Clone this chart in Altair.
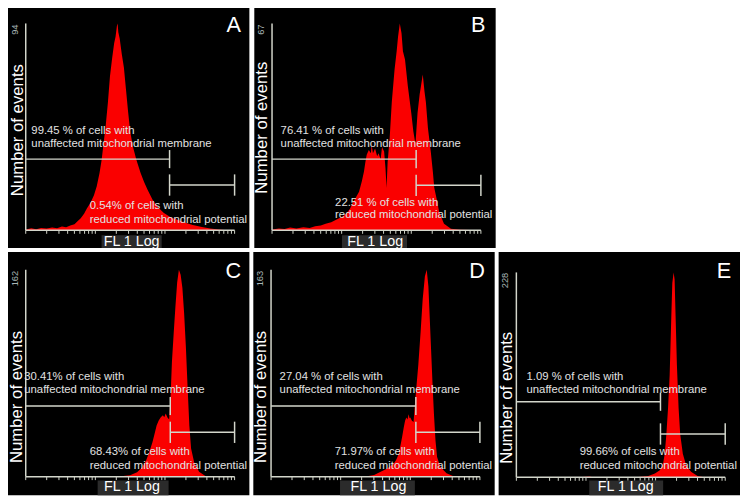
import math
import altair as alt
import pandas as pd

# ---------------- data ----------------
panel_ids = ["A", "B", "C", "D", "E"]
max_events = [94, 67, 162, 163, 228]
# boundary between the two gates and the end of the axis, in log10(FL1) units
gate_split = [2.066, 2.07, 2.076, 2.08, 2.07]
axis_decades = 3.0

upper_line1 = ["99.45 % of cells with", "76.41 % of cells with", "30.41% of cells with",
               "27.04 % of cells with", "1.09 % of cells with"]
upper_line2 = "unaffected mitochondrial membrane"
lower_line1 = ["0.54% of cells with", "22.51 % of cells with", "68.43% of cells with",
               "71.97% of cells with", "99.66% of cells with"]
lower_line2 = "reduced mitochondrial potential"
y_title = "Number of events"
x_title = "FL 1 Log"

# histograms: log10(FL1) position and number of events
hist_A_x = [0.00, 0.08, 0.15, 0.22, 0.30, 0.38, 0.45, 0.52, 0.58, 0.64, 0.70, 0.74, 0.79, 0.84, 0.88,
            0.93, 0.98, 1.02, 1.06, 1.09, 1.12, 1.15, 1.18, 1.21, 1.24, 1.27, 1.29, 1.31, 1.32, 1.33,
            1.35, 1.38, 1.41, 1.44, 1.47, 1.50, 1.54, 1.59, 1.65, 1.70, 1.75, 1.82, 1.90, 1.98, 2.08,
            2.18, 2.28, 2.40, 2.53, 2.65, 2.77, 2.90, 3.00]
hist_A_y = [0.4, 0.9, 0.5, 1.1, 0.8, 1.3, 1.0, 1.7, 1.4, 2.2, 2.8, 4.0, 5.5, 7.6, 10.0,
            12.5, 16.0, 20.0, 26.0, 32.0, 40.0, 48.0, 58.0, 70.0, 78.0, 85.0, 88.0, 93.0, 94.0, 90.0,
            87.0, 80.0, 74.0, 64.0, 54.0, 45.0, 38.0, 32.0, 26.0, 22.0, 18.5, 14.0, 10.5, 8.0, 6.0,
            4.8, 3.6, 2.4, 1.5, 0.8, 0.4, 0.1, 0.0]

hist_B_x = [0.00, 0.10, 0.18, 0.26, 0.35, 0.45, 0.54, 0.62, 0.70, 0.77, 0.85, 0.92, 1.00, 1.06, 1.12,
            1.15, 1.20, 1.25, 1.29, 1.32, 1.34, 1.36, 1.39, 1.42, 1.43, 1.45, 1.48, 1.51, 1.53, 1.56,
            1.58, 1.61, 1.63, 1.645, 1.66, 1.69, 1.72, 1.76, 1.79, 1.81, 1.835, 1.86, 1.88, 1.91, 1.95,
            2.00, 2.03, 2.06, 2.09, 2.12, 2.14, 2.165, 2.19, 2.21, 2.24, 2.28, 2.31, 2.33, 2.37, 2.40,
            2.47, 2.57, 2.70, 2.99]
hist_B_y = [0.3, 0.6, 0.4, 0.9, 0.6, 1.0, 0.8, 1.3, 1.6, 2.1, 2.6, 3.4, 4.3, 5.3, 7.0,
            8.5, 10.5, 12.5, 15.9, 19.0, 22.0, 24.5, 26.0, 25.0, 27.6, 25.0, 26.5, 24.0, 25.0, 23.0,
            27.0, 25.5, 20.0, 13.8, 22.0, 30.0, 41.5, 52.1, 58.0, 62.7, 67.0, 63.8, 58.0, 55.3, 46.8,
            38.0, 32.0, 28.0, 38.0, 44.0, 46.8, 50.5, 45.0, 41.5, 33.0, 25.5, 19.0, 13.8, 9.6, 6.0,
            2.1, 0.5, 0.2, 0.0]

hist_C_x = [0.00, 0.30, 0.60, 0.90, 1.20, 1.40, 1.50, 1.54, 1.60, 1.64, 1.68, 1.73, 1.78, 1.82, 1.85,
            1.88, 1.91, 1.94, 1.97, 1.99, 2.01, 2.04, 2.06, 2.08, 2.10, 2.125, 2.15, 2.175, 2.20,
            2.225, 2.25, 2.275, 2.30, 2.325, 2.35, 2.375, 2.42, 2.49, 2.58, 2.72, 3.00]
hist_C_y = [0.0, 0.2, 0.3, 0.2, 0.4, 0.5, 1.0, 2.0, 3.5, 5.5, 8.0, 12.9, 20.0, 27.0, 33.4,
            40.0, 44.0, 46.5, 48.0, 46.5, 49.5, 46.0, 45.0, 61.7, 90.0, 112.0, 133.0, 152.0, 162.0,
            158.0, 148.0, 128.0, 102.0, 70.0, 40.0, 22.0, 11.0, 3.9, 0.5, 0.1, 0.0]

hist_D_x = [0.00, 0.30, 0.60, 0.90, 1.20, 1.40, 1.48, 1.575, 1.67, 1.764, 1.80, 1.835, 1.86, 1.882,
            1.906, 1.925, 1.943, 1.96, 1.976, 1.99, 2.00, 2.024, 2.047, 2.066, 2.09, 2.115, 2.148,
            2.178, 2.21, 2.236, 2.26, 2.278, 2.298, 2.322, 2.34, 2.362, 2.385, 2.43, 2.52, 2.613,
            2.75, 3.00]
hist_D_y = [0.0, 0.2, 0.3, 0.2, 0.4, 0.6, 1.3, 3.9, 6.5, 10.3, 13.5, 18.1, 25.0, 31.0,
            38.8, 44.0, 46.6, 45.0, 49.2, 46.0, 46.6, 44.0, 43.0, 56.9, 72.0, 88.0, 113.8,
            139.7, 157.8, 163.0, 150.0, 126.8, 100.9, 69.8, 49.2, 28.5, 15.5, 7.8, 2.6, 0.5,
            0.1, 0.0]

hist_E_x = [0.00, 0.50, 0.90, 1.05, 1.10, 1.30, 1.60, 1.754, 1.896, 1.99, 2.061, 2.108, 2.131, 2.155,
            2.179, 2.202, 2.226, 2.24, 2.259, 2.273, 2.287, 2.306, 2.33, 2.353, 2.391, 2.438, 2.509,
            2.603, 2.697, 3.00]
hist_E_y = [0.0, 0.0, 0.0, 0.8, 0.0, 0.0, 0.2, 0.5, 1.5, 4.4, 8.0, 15.3, 26.3, 48.2,
            77.5, 114.0, 179.8, 216.3, 228.0, 220.0, 179.8, 125.0, 77.5, 48.2, 26.3, 13.5, 6.2,
            1.5, 0.2, 0.0]

hist_x = [hist_A_x, hist_B_x, hist_C_x, hist_D_x, hist_E_x]
hist_y = [hist_A_y, hist_B_y, hist_C_y, hist_D_y, hist_E_y]

# log-axis minor/major tick positions (log10 units)
tick_positions = [d + math.log10(k) for d in range(3) for k in range(1, 10)] + [3.0]

# ---------------- layout / style (pixels inside each panel) ----------------
PANEL_W = 245
PANEL_H = [245, 245, 247, 247, 247]
LAYOUT = [
    dict(base=227, top=17, m1=154.7, m2=181.0, ux=23.7, uy=(129.3, 142.0), lx=83.0, ly=(205.3, 219.3),
         tx=15.3, ty=125.3, mx=10, my=18, cx=229, cy=25.3, bx=(95, 156), fx=125.5),
    dict(base=227, top=17, m1=154.7, m2=181.3, ux=26.7, uy=(129.3, 142.0), lx=82.0, ly=(202.0, 214.3),
         tx=12.7, ty=122.8, mx=10, my=18, cx=227.3, cy=25.3, bx=(89, 155), fx=122.7),
    dict(base=228, top=18, m1=156.3, m2=183.0, ux=16.5, uy=(130.3, 143.0), lx=83.0, ly=(206.3, 220.3),
         tx=14.0, ty=147.2, mx=10, my=19, cx=228.7, cy=26.3, bx=(91, 163), fx=125.8),
    dict(base=228, top=18, m1=156.3, m2=183.0, ux=26.7, uy=(130.3, 143.0), lx=82.7, ly=(206.3, 220.3),
         tx=13.3, ty=147.0, mx=10, my=19, cx=227.0, cy=26.3, bx=(88, 164), fx=127.0),
    dict(base=228.7, top=20.7, m1=152.0, m2=184.7, ux=28.3, uy=(130.3, 143.0), lx=82.3, ly=(206.3, 220.3),
         tx=13.3, ty=148.0, mx=10, my=21, cx=228.7, cy=26.3, bx=(92, 167), fx=129.0),
]
RED = "#fa0000"
LINE = "#d3d6cb"
TEXT = "#e2e2e2"
FONT = "Liberation Sans"
one = pd.DataFrame({"k": [0]})


def txt(text, x, y, size, color, align="left", angle=0, baseline="alphabetic"):
    kw = dict(text=text, fontSize=size, color=color, align=align, baseline=baseline, font=FONT)
    if angle:
        kw["angle"] = angle
    return alt.Chart(one).mark_text(**kw).encode(x=alt.value(x), y=alt.value(y))


def panel(i):
    L = LAYOUT[i]
    xs = alt.Scale(domain=[0, axis_decades], range=[18, 230], nice=False, zero=False)
    ys = alt.Scale(domain=[0, max_events[i]], range=[L["base"], L["top"]], nice=False, zero=False)
    g = gate_split[i]

    hist = pd.DataFrame({"fl": hist_x[i], "n": hist_y[i]})
    area = alt.Chart(hist).mark_area(color=RED, interpolate="linear").encode(
        x=alt.X("fl:Q", scale=xs, axis=None),
        y=alt.Y("n:Q", scale=ys, axis=None),
        y2=alt.datum(0),
    )
    yaxis = alt.Chart(pd.DataFrame({"x": [0.0], "y1": [0.0], "y2": [float(max_events[i])]})).mark_rule(
        color=LINE, strokeWidth=1.5).encode(
        x=alt.X("x:Q", axis=None), y=alt.Y("y1:Q", axis=None), y2="y2:Q")
    xaxis = alt.Chart(pd.DataFrame({"x1": [0.0], "x2": [axis_decades], "y": [0.0]})).mark_rule(
        color=LINE, strokeWidth=1.5).encode(
        x=alt.X("x1:Q", axis=None), x2="x2:Q", y=alt.Y("y:Q", axis=None))
    ticks = alt.Chart(pd.DataFrame({"t": tick_positions})).mark_rule(color=LINE, strokeWidth=1).encode(
        x=alt.X("t:Q", axis=None), y=alt.value(L["base"]), y2=alt.value(L["base"] + 3.5))

    m1 = alt.Chart(pd.DataFrame({"a": [0.0], "b": [g]})).mark_rule(color=LINE, strokeWidth=1.5).encode(
        x=alt.X("a:Q", axis=None), x2="b:Q", y=alt.value(L["m1"]))
    m1cap = alt.Chart(pd.DataFrame({"a": [g]})).mark_rule(color=LINE, strokeWidth=1.5).encode(
        x=alt.X("a:Q", axis=None), y=alt.value(L["m1"] - 9.2), y2=alt.value(L["m1"] + 9.2))
    m2 = alt.Chart(pd.DataFrame({"a": [g], "b": [axis_decades]})).mark_rule(
        color=LINE, strokeWidth=1.5).encode(
        x=alt.X("a:Q", axis=None), x2="b:Q", y=alt.value(L["m2"]))
    m2cap = alt.Chart(pd.DataFrame({"a": [g, axis_decades]})).mark_rule(color=LINE, strokeWidth=1.5).encode(
        x=alt.X("a:Q", axis=None), y=alt.value(L["m2"] - 10.8), y2=alt.value(L["m2"] + 10.8))

    box = alt.Chart(one).mark_rect(color="#2b2b2b").encode(
        x=alt.value(L["bx"][0]), x2=alt.value(L["bx"][1]),
        y=alt.value(232), y2=alt.value(PANEL_H[i]))

    layers = [
        area, yaxis, xaxis, ticks, m1, m1cap, m2, m2cap, box,
        txt(x_title, L["fx"], 242.5, 14.5, "white", align="center"),
        txt(y_title, L["tx"], L["ty"], 17, "white", align="center", angle=270),
        txt(str(max_events[i]), L["mx"], L["my"], 9.5, "#a9b6b6", align="right", angle=270),
        txt(panel_ids[i], L["cx"], L["cy"], 22, "white", align="center"),
        txt(upper_line1[i], L["ux"], L["uy"][0], 11.5, TEXT),
        txt(upper_line2, L["ux"], L["uy"][1], 11.5, TEXT),
        txt(lower_line1[i], L["lx"], L["ly"][0], 11.5, TEXT),
        txt(lower_line2, L["lx"], L["ly"][1], 11.5, TEXT),
    ]
    return alt.layer(*layers).properties(width=PANEL_W, height=PANEL_H[i])


panels = [panel(i) for i in range(5)]
top_row = alt.hconcat(panels[0], panels[1], spacing=3)
bottom_row = alt.hconcat(panels[2], panels[3], panels[4], spacing=3)
chart = alt.vconcat(top_row, bottom_row, spacing=4).properties(
    padding={"left": -1, "top": -5, "right": 0, "bottom": 0}
).configure_view(fill="black", strokeWidth=0)

chart.save("out.html", embed_options={"renderer": "svg", "actions": False})
